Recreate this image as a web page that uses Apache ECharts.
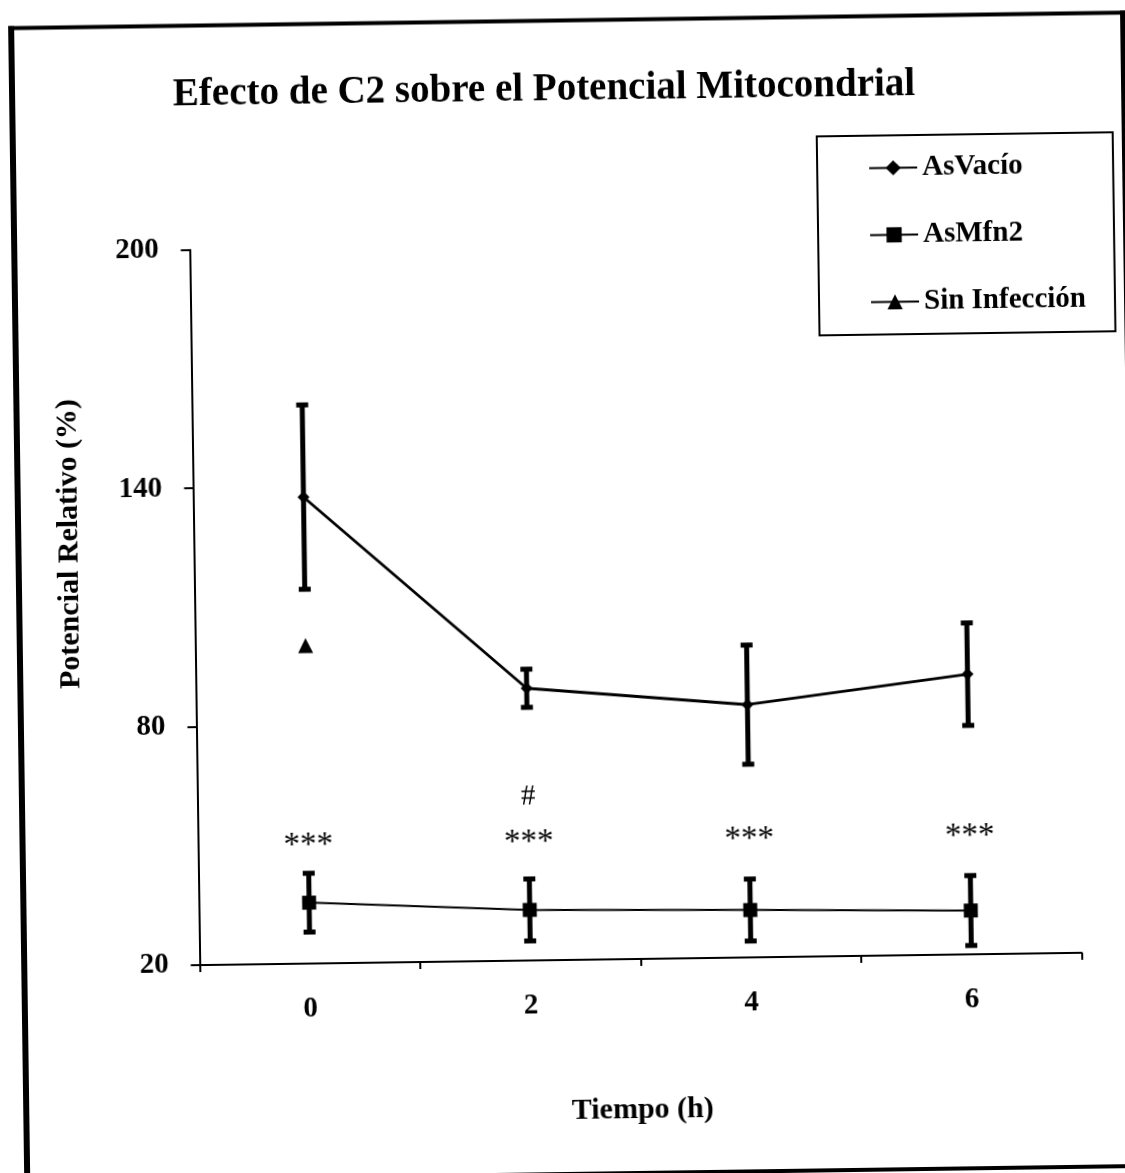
<!DOCTYPE html>
<html>
<head>
<meta charset="utf-8">
<title>Efecto de C2 sobre el Potencial Mitocondrial</title>
<script src="https://cdn.jsdelivr.net/npm/echarts@6/dist/echarts.min.js"></script>
<style>
  html, body { margin: 0; padding: 0; background: #fff; overflow: hidden; width: 1125px; height: 1173px; }
  /* the printed figure sits slightly skewed on the page */
  #chart { position: absolute; left: -20px; top: -20px; width: 1165px; height: 1213px; transform: rotate(-0.8deg); }
</style>
</head>
<body>
<div id="chart"></div>
<script>
// Time points (hours)
const hours = ['0', '2', '4', '6'];
// AsVacío: mean relative potential (%) and error
const asVacioMean = [137.4, 88.5, 83.6, 90.5];
const asVacioErr = [23.2, 4.8, 15.0, 12.9];
// AsMfn2: mean relative potential (%) and error
const asMfn2Mean = [35.3, 32.7, 31.9, 31.0];
const asMfn2Err = [7.4, 7.8, 7.8, 8.8];
// Sin Infección: single measurement at time 0
const sinInfeccion = [100, null, null, null];
// Significance marks above AsMfn2
const sigStars = ['***', '***', '***', '***'];
const sigHash = ['', '#', '', ''];
// Value axis
const yMin = 20, yMax = 200, yStep = 60;

const SERIF = '"Liberation Serif", "Times New Roman", serif';
const ANNOT_LEVEL = 50.5;

function errorBars(name, means, errs, barWidth, capW, capH) {
  return {
    type: 'custom',
    name: name + ' error',
    z: 5,
    silent: true,
    encode: { x: 0, y: [1, 2] },
    data: means.map((m, i) => [i, m - errs[i], m + errs[i]]),
    renderItem: function (params, api) {
      const i = api.value(0);
      const lo = api.coord([i, api.value(1)]);
      const hi = api.coord([i, api.value(2)]);
      return {
        type: 'group',
        children: [
          { type: 'line', shape: { x1: hi[0], y1: hi[1], x2: lo[0], y2: lo[1] },
            style: { stroke: '#000', lineWidth: barWidth } },
          { type: 'rect', shape: { x: hi[0] - capW / 2, y: hi[1] - capH / 2, width: capW, height: capH },
            style: { fill: '#000' } },
          { type: 'rect', shape: { x: lo[0] - capW / 2, y: lo[1] - capH / 2, width: capW, height: capH },
            style: { fill: '#000' } }
        ]
      };
    }
  };
}

const chart = echarts.init(document.getElementById('chart'), null, { renderer: 'canvas' });

chart.setOption({
  backgroundColor: '#fff',
  animation: false,
  title: {
    text: 'Efecto de C2 sobre el Potencial Mitocondrial',
    left: 566,
    top: 85,
    textAlign: 'center',
    textStyle: { fontFamily: SERIF, fontWeight: 'bold', fontSize: 39, color: '#000' }
  },
  legend: {
    data: ['AsVacío', 'AsMfn2', 'Sin Infección'],
    orient: 'vertical',
    left: 843,
    top: 160,
    padding: [18, 29, 18, 51],
    itemGap: 38,
    itemWidth: 48,
    itemHeight: 19,
    textStyle: { fontFamily: SERIF, fontWeight: 'bold', fontSize: 29, color: '#000', padding: [0, 0, 0, 0] },
    borderColor: '#000',
    borderWidth: 2,
    borderRadius: 0,
    backgroundColor: '#fff',
    selectedMode: false
  },
  grid: { left: 214.5, right: 68.5, top: 264.8, bottom: 233.1, containLabel: false },
  xAxis: {
    type: 'category',
    data: hours,
    boundaryGap: true,
    name: 'Tiempo (h)',
    nameLocation: 'middle',
    nameGap: 136,
    nameTextStyle: { fontFamily: SERIF, fontWeight: 'bold', fontSize: 30, color: '#000' },
    axisLine: { lineStyle: { color: '#000', width: 2 } },
    axisTick: { show: true, inside: false, length: 7, interval: 0, lineStyle: { color: '#000', width: 2 } },
    axisLabel: { margin: 31, fontFamily: SERIF, fontWeight: 'bold', fontSize: 29, color: '#000' },
    splitLine: { show: false }
  },
  yAxis: {
    type: 'value',
    min: yMin,
    max: yMax,
    interval: yStep,
    axisLine: { show: true, lineStyle: { color: '#000', width: 2 } },
    axisTick: { show: true, inside: false, length: 9, lineStyle: { color: '#000', width: 2 } },
    axisLabel: { margin: 31, fontFamily: SERIF, fontWeight: 'bold', fontSize: 29, color: '#000' },
    splitLine: { show: false }
  },
  graphic: [
    // page frame
    { type: 'line', shape: { x1: 39, y1: 38.6, x2: 39, y2: 1210 }, style: { stroke: '#000', lineWidth: 6 } },
    { type: 'line', shape: { x1: 36, y1: 40.6, x2: 1160, y2: 40.6 }, style: { stroke: '#000', lineWidth: 4 } },
    { type: 'line', shape: { x1: 1151, y1: 38.6, x2: 1151, y2: 1210 }, style: { stroke: '#000', lineWidth: 6 } },
    { type: 'line', shape: { x1: 36, y1: 1194, x2: 1160, y2: 1194 }, style: { stroke: '#000', lineWidth: 4 } },
    // value axis title
    {
      type: 'text',
      x: 90.6, y: 557.1,
      rotation: Math.PI / 2,
      style: {
        text: 'Potencial Relativo (%)',
        align: 'center', verticalAlign: 'middle',
        font: 'bold 30px ' + SERIF, fill: '#000'
      }
    }
  ],
  series: [
    {
      name: 'AsVacío',
      type: 'line',
      data: asVacioMean,
      symbol: 'diamond',
      symbolSize: 12,
      z: 3,
      lineStyle: { color: '#000', width: 2.8 },
      itemStyle: { color: '#000' }
    },
    {
      name: 'AsMfn2',
      type: 'line',
      data: asMfn2Mean,
      symbol: 'rect',
      symbolSize: 14,
      z: 3,
      lineStyle: { color: '#000', width: 2 },
      itemStyle: { color: '#000' }
    },
    {
      name: 'Sin Infección',
      type: 'line',
      data: sinInfeccion.map(v => (v == null ? '-' : v)),
      symbol: 'triangle',
      symbolSize: 15,
      z: 3,
      lineStyle: { color: '#000', width: 2 },
      itemStyle: { color: '#000' }
    },
    errorBars('AsVacío', asVacioMean, asVacioErr, 5, 12, 5),
    errorBars('AsMfn2', asMfn2Mean, asMfn2Err, 5, 12, 5),
    {
      type: 'custom',
      name: 'significance',
      silent: true,
      z: 6,
      encode: { x: 0, y: 1 },
      data: hours.map((h, i) => [i, ANNOT_LEVEL]),
      renderItem: function (params, api) {
        const i = api.value(0);
        const p = api.coord([i, api.value(1)]);
        const children = [{
          type: 'text',
          style: { text: sigStars[i], x: p[0], y: p[1] + 4, align: 'center', verticalAlign: 'middle',
                   font: '33px ' + SERIF, fill: '#000' }
        }];
        if (sigHash[i]) {
          children.push({
            type: 'text',
            style: { text: sigHash[i], x: p[0], y: p[1] - 42, align: 'center', verticalAlign: 'middle',
                     font: '29px ' + SERIF, fill: '#000' }
          });
        }
        return { type: 'group', children: children };
      }
    }
  ]
});
</script>
</body>
</html>
